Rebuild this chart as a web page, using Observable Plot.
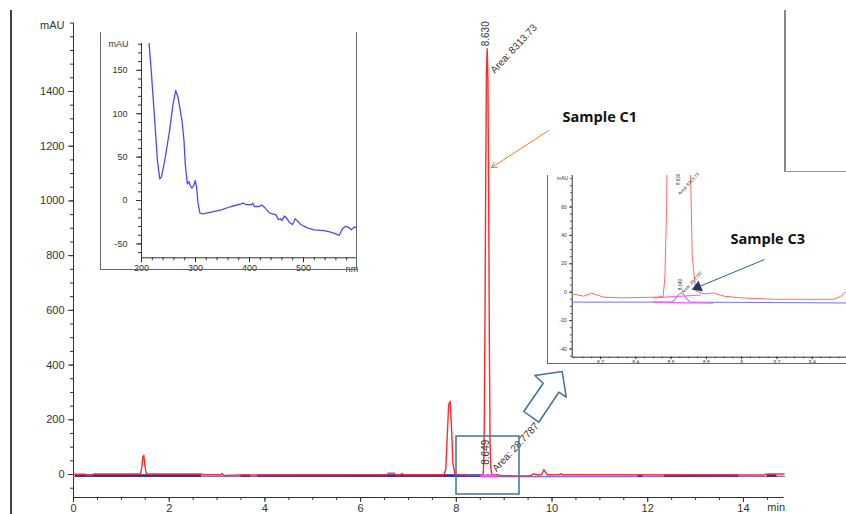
<!DOCTYPE html>
<html><head><meta charset="utf-8">
<script src="https://cdn.jsdelivr.net/npm/d3@7"></script>
<script src="https://cdn.jsdelivr.net/npm/@observablehq/plot@0.6"></script>
<style>
body{margin:0;background:#fff;}
#fig{position:relative;width:846px;height:514px;overflow:hidden;background:#fff;font-family:"Liberation Sans",Arial,sans-serif;}
.abs{position:absolute;}
.abs svg{overflow:visible;}
</style>
</head><body>
<div id="fig"></div>
<script>
// ---------- main chromatogram (time in min, absorbance in mAU) ----------
const redTime = [0, 0.25, 0.29, 0.38, 0.42, 1.40, 1.43, 1.45, 1.47, 1.49, 1.52, 2.68, 2.72, 3.08, 3.11, 3.14, 3.5, 6.55, 6.58, 6.7, 6.73, 6.83, 6.86, 6.9, 7.74, 7.78, 7.81, 7.84, 7.87, 7.9, 7.93, 7.97, 8.04, 8.105, 8.15, 8.218, 8.33, 8.52, 8.555, 8.565, 8.575, 8.585, 8.6, 8.615, 8.63, 8.645, 8.66, 8.675, 8.69, 8.705, 8.72, 8.74, 8.77, 8.8, 8.84, 8.9, 9.0, 9.18, 9.52, 9.56, 9.59, 9.62, 9.66, 9.7, 9.78, 9.81, 9.83, 9.86, 9.9, 10.15, 10.18, 10.22, 14.4, 14.5, 14.85];
const redValue = [1, 1, -3, -3, 2, 2, 30, 66, 70, 35, 2, 2, -1, -1, 4, -3, -2, -1, 5, 5, -1, -1, 4, -1, -1, 20, 140, 255, 268, 170, 40, 2, -1.2, -2.8, -0.7, -3.5, -4, -3.5, -3, 10, 60, 200, 600, 1100, 1480, 1556, 1450, 1050, 500, 120, 25, 1, -0.5, -1.2, -0.5, -2.8, -4, -5, -5, -3, 0, 3, 0, -1, -1, 10, 18, 10, -1, -1, 3, -1, -2, 2, 2];
const blueTime = [0, 8.6, 8.62, 8.64, 8.657, 8.675, 8.69, 8.71, 9.0, 9.594, 14.85];
const blueValue = [-7, -7, -5.5, -2, -0.5, -2, -5, -7, -7.2, -7.6, -7];
const baseSegStart = [0.04, 3.5, 3.85, 11.8, 12.35, 14.5];
const baseSegEnd = [2.68, 3.7, 8.55, 11.9, 13.9, 14.7];
const baseSegLevel = -4;
const integX1 = [8.5, 8.5];
const integY1 = [-4, -7];
const integX2 = [8.77, 8.84];
const integY2 = [-2, -7.8];

// peak labels
const peakLabelText = ["8.630", "Area: 8313.73", "8.649", "Area: 28.7787"];
const peakLabelX = [8.61, 9.20, 8.61, 9.237];
const peakLabelY = [1611, 1556, 81.5, 99.8];
const peakLabelRotate = [-90, -47, -90, -47];
const insetLabelX = [8.64, 8.70, 8.653, 8.718];
const insetLabelY = [79.4, 76.3, 5.4, 6.8];

// axes ticks
const mainYTicks = [0, 200, 400, 600, 800, 1000, 1200, 1400];
const mainXTicks = [0, 2, 4, 6, 8, 10, 12, 14];

// annotations (in main chart data units)
const zoomBox = {x1: 8.004, x2: 9.321, y1: -73, y2: 139};
const blockArrowX = [10.213, 9.641, 9.816, 9.411, 9.724, 10.142, 10.297, 10.213];
const blockArrowY = [376.5, 361.8, 333.7, 230.3, 191.2, 300.8, 282.5, 376.5];
const c1Arrow = {x1: 9.927, y1: 1257, x2: 8.736, y2: 1122};
const c1Label = {x: 10.22, y: 1305, text: "Sample C1"};

// ---------- inset 1: UV spectrum ----------
const specNm = [214, 218, 224.5, 229.5, 233.8, 236.9, 243, 252, 258.4, 263.3, 267.6, 275, 278.7, 281, 284.9, 287.8, 290.4, 293.4, 296.5, 299.6, 302, 304.4, 308.2, 313.7, 329, 347.6, 366, 384.5, 387.5, 393.6, 403, 406, 409, 418, 423, 427.5, 436.7, 442.8, 449, 453.3, 457, 460.2, 464.4, 468.6, 473.6, 479.7, 484.7, 489, 495, 507.4, 519.7, 538, 550.6, 559.8, 566, 572, 578, 584.3, 588.6, 593.5, 599.7];
const specAbs = [181, 149.8, 92, 46, 25, 26.9, 46, 80.6, 111, 126.7, 119, 92, 69, 42, 19, 21.9, 17, 14.2, 17, 23, 15.3, -2, -14.6, -15.4, -13.4, -10.8, -6.9, -3.8, -3, -4.6, -5, -3, -6.9, -6.9, -5, -7.7, -14.2, -15.4, -16.5, -21.9, -21, -23, -18, -20, -25, -27.6, -21, -23.8, -27.6, -31.5, -33.8, -34.6, -36.5, -38.4, -40.3, -32.6, -29.6, -31.5, -33.8, -30.7, -31.5];
const specYTicks = [-50, 0, 50, 100, 150];
const specXTicks = [200, 300, 400, 500];

// ---------- inset 2: zoomed chromatogram ----------
const zoomYTicks = [-40, -20, 0, 20, 40, 60];
const zoomXTicks = [8.2, 8.4, 8.6, 8.8, 9, 9.2, 9.4];
const c3Arrow = {x1: 9.129, y1: 23, x2: 8.751, y2: 3.5};
const c3Label = {x: 8.937, y: 37.1, text: "Sample C3"};

const rows = (xs, ys) => xs.map((x, i) => ({x, y: ys[i]}));
const red = rows(redTime, redValue);
const blue = rows(blueTime, blueValue);
const baseSegs = baseSegStart.map((s, i) => ({x1: s, x2: baseSegEnd[i], y: baseSegLevel}));
const integ = integX1.map((x, i) => ({x1: x, y1: integY1[i], x2: integX2[i], y2: integY2[i]}));
const peakLabels = peakLabelText.map((t, i) => ({text: t, x: peakLabelX[i], y: peakLabelY[i], r: peakLabelRotate[i]}));
const insetLabels = peakLabelText.map((t, i) => ({text: t, x: insetLabelX[i], y: insetLabelY[i], r: peakLabelRotate[i]}));
const blockArrow = rows(blockArrowX, blockArrowY);

const fig = document.getElementById("fig");
const FONT = "'Liberation Sans', Arial, sans-serif";
const BOLD = "'Open Sans', 'Liberation Sans', sans-serif";

function place(node, left, top) {
  const d = document.createElement("div");
  d.className = "abs";
  d.style.left = left + "px"; d.style.top = top + "px";
  d.appendChild(node);
  fig.appendChild(d);
  return d;
}
function box(left, top, w, h, css) {
  const d = document.createElement("div");
  d.className = "abs";
  Object.assign(d.style, {left: left + "px", top: top + "px", width: w + "px", height: h + "px"}, css);
  fig.appendChild(d);
}

// ---- main plot
const X0 = -84, YTOP = 1650;
const main = Plot.plot({
  width: 846, height: 514,
  marginLeft: 73, marginRight: 62.4, marginTop: 22.6, marginBottom: 17,
  x: {domain: [0, 14.85]},
  y: {domain: [X0, YTOP]},
  style: {fontFamily: FONT, fontSize: "11px", color: "#333", background: "transparent", overflow: "visible"},
  marks: [
    Plot.axisY({ticks: d3.range(-50, 1651, 50), tickSize: 3, tickFormat: () => "", label: null}),
    Plot.axisY({ticks: mainYTicks, tickSize: 5, tickPadding: 4, tickFormat: d => String(d), label: null}),
    Plot.axisX({ticks: d3.range(0, 14.8, 0.5), tickSize: 3, tickFormat: () => "", label: null}),
    Plot.axisX({ticks: mainXTicks, tickSize: 5, tickPadding: 2, tickFormat: d => String(d), label: null}),
    Plot.ruleX([0], {stroke: "#333"}),
    Plot.ruleY([X0], {stroke: "#333"}),
    Plot.text([{x: 0, y: YTOP}], {x: "x", y: "y", text: () => "mAU", textAnchor: "end", dx: -9, dy: 2, fill: "#333"}),
    Plot.text([{x: 14.5, y: X0}], {x: "x", y: "y", text: () => "min", textAnchor: "start", dy: 10, fill: "#333"}),
    Plot.line(blue, {x: "x", y: "y", stroke: "#6a6aff", strokeWidth: 1.3}),
    Plot.ruleY(baseSegs, {x1: "x1", x2: "x2", y: "y", stroke: "#2a2aa8", strokeWidth: 2.5}),
    Plot.line(red, {x: "x", y: "y", stroke: "#ff2a2a", strokeWidth: 1.4}),
    Plot.link(integ, {x1: "x1", y1: "y1", x2: "x2", y2: "y2", stroke: "#ff44ff", strokeWidth: 1.5}),
    Plot.text(peakLabels, {x: "x", y: "y", text: "text", rotate: "r", fontSize: 10, fill: "#333"}),
    Plot.rect([zoomBox], {x1: "x1", x2: "x2", y1: "y1", y2: "y2", fill: "none", stroke: "#41719c", strokeWidth: 1.5}),
    Plot.line(blockArrow, {x: "x", y: "y", stroke: "#41719c", strokeWidth: 1.5, fill: "white"}),
    Plot.arrow([c1Arrow], {x1: "x1", y1: "y1", x2: "x2", y2: "y2", stroke: "#ed7d31", strokeWidth: 1, headLength: 9}),
    Plot.text([c1Label], {x: "x", y: "y", text: "text", textAnchor: "start", fontSize: 14.5, fontWeight: "bold", fontFamily: BOLD, fill: "#111"})
  ]
});
place(main, 0, 0);

// figure frame lines
box(10, 10, 1.5, 504, {background: "#444"});
box(784, 10, 2, 162, {background: "#888"});
box(785, 171, 61, 1, {background: "#999"});

// ---- inset 1
box(100, 32, 257, 238, {background: "#fff"});
const spec = Plot.plot({
  width: 257, height: 238,
  marginLeft: 41, marginRight: 0, marginTop: 10.9, marginBottom: 12.7,
  x: {domain: [200, 600]},
  y: {domain: [-66, 181]},
  style: {fontFamily: FONT, fontSize: "9px", color: "#333", background: "transparent", overflow: "visible"},
  marks: [
    Plot.axisY({ticks: d3.range(-60, 181, 10), tickSize: 3, tickFormat: () => "", label: null}),
    Plot.axisY({ticks: specYTicks, tickSize: 5, tickPadding: 9, tickFormat: d => String(d), label: null}),
    Plot.axisX({ticks: d3.range(200, 600, 20), tickSize: 3, tickFormat: () => "", label: null}),
    Plot.axisX({ticks: specXTicks, tickSize: 5, tickPadding: 2, tickFormat: d => String(d), label: null}),
    Plot.ruleX([200], {stroke: "#333"}),
    Plot.ruleY([-66], {stroke: "#333"}),
    Plot.text([{x: 200, y: 181}], {x: "x", y: "y", text: () => "mAU", textAnchor: "end", dx: -13, dy: 1, fill: "#333"}),
    Plot.text([{x: 578, y: -66}], {x: "x", y: "y", text: () => "nm", textAnchor: "start", dy: 11, fill: "#333"}),
    Plot.line(rows(specNm, specAbs), {x: "x", y: "y", stroke: "#4a4aff", strokeWidth: 1.3, clip: true})
  ]
});
place(spec, 100, 32);
box(100, 32, 1, 238, {background: "#666"});
box(356, 32, 1, 238, {background: "#666"});
box(100, 269, 257, 1, {background: "#666"});

// ---- inset 2
box(547, 174, 299, 190, {background: "#fff"});
const zoomPlot = Plot.plot({
  width: 299, height: 192,
  marginLeft: 24.7, marginRight: 0, marginTop: 3, marginBottom: 7.3,
  x: {domain: [8.04, 9.594]},
  y: {domain: [-45.8, 82.2]},
  style: {fontFamily: FONT, fontSize: "5px", color: "#333", background: "transparent", overflow: "visible"},
  marks: [
    Plot.axisY({ticks: d3.range(-45, 82, 5), tickSize: 1.5, tickFormat: () => "", label: null}),
    Plot.axisY({ticks: zoomYTicks, tickSize: 2.5, tickPadding: 3, tickFormat: d => String(d), label: null}),
    Plot.axisX({ticks: d3.range(8.05, 9.59, 0.05), tickSize: 1.5, tickFormat: () => "", label: null}),
    Plot.axisX({ticks: zoomXTicks, tickSize: 2.5, tickPadding: 1, tickFormat: d => String(d), label: null}),
    Plot.ruleX([8.04], {stroke: "#333"}),
    Plot.ruleY([-45.8], {stroke: "#333"}),
    Plot.text([{x: 8.04, y: 80}], {x: "x", y: "y", text: () => "mAU", textAnchor: "end", dx: -4, fill: "#333"}),
    Plot.line(blue, {x: "x", y: "y", stroke: "#7070ff", strokeWidth: 1, clip: true}),
    Plot.line(red, {x: "x", y: "y", stroke: "#ff6a6a", strokeWidth: 1, clip: true}),
    Plot.link(integ, {x1: "x1", y1: "y1", x2: "x2", y2: "y2", stroke: "#ff55ff", strokeWidth: 1.2}),
    Plot.text(insetLabels, {x: "x", y: "y", text: "text", rotate: "r", fontSize: 4.5, fill: "#333"}),
    Plot.link([c3Arrow], {x1: "x1", y1: "y1", x2: "x2", y2: "y2", stroke: "#2f5f8a", strokeWidth: 1}),
    Plot.dot([c3Arrow], {x: "x2", y: "y2", symbol: "triangle", r: 4.2, rotate: -113, fill: "#1f3864", stroke: "none"}),
    Plot.text([c3Label], {x: "x", y: "y", text: "text", textAnchor: "start", fontSize: 14.5, fontWeight: "bold", fontFamily: BOLD, fill: "#111"})
  ]
});
place(zoomPlot, 547, 172);
box(547, 175, 1, 189, {background: "#666"});
box(547, 363, 299, 1, {background: "#666"});
</script>
</body></html>
